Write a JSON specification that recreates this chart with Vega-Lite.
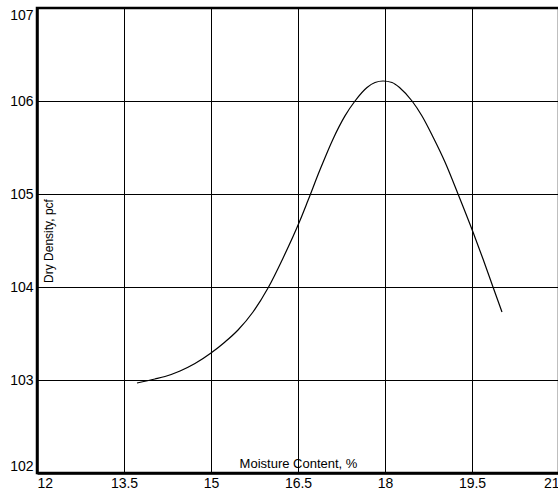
{
  "$schema": "https://vega.github.io/schema/vega-lite/v6.json",
  "autosize": "none",
  "padding": {"left": 37, "top": 8, "right": 0, "bottom": 17},
  "width": 522,
  "height": 465,
  "background": "white",
  "config": {
    "view": {"stroke": "black", "strokeWidth": 2.5},
    "axis": {
      "labelFont": "Liberation Sans",
      "titleFont": "Liberation Sans",
      "labelColor": "black",
      "titleColor": "black",
      "labelFontSize": 14,
      "ticks": false,
      "domainColor": "black",
      "domainWidth": 2.5,
      "gridColor": "black",
      "gridOpacity": 1,
      "gridWidth": 1,
      "titleFontWeight": "normal",
      "labelFlush": true
    }
  },
  "data": {
    "values": [
      {"moisture": 13.724, "density": 102.968},
      {"moisture": 14.034, "density": 103.011},
      {"moisture": 14.207, "density": 103.038},
      {"moisture": 14.466, "density": 103.097},
      {"moisture": 14.724, "density": 103.177},
      {"moisture": 15.0, "density": 103.29},
      {"moisture": 15.241, "density": 103.409},
      {"moisture": 15.466, "density": 103.538},
      {"moisture": 15.724, "density": 103.731},
      {"moisture": 15.983, "density": 103.989},
      {"moisture": 16.241, "density": 104.31},
      {"moisture": 16.534, "density": 104.715},
      {"moisture": 16.672, "density": 104.93},
      {"moisture": 16.879, "density": 105.26},
      {"moisture": 17.103, "density": 105.59},
      {"moisture": 17.31, "density": 105.84},
      {"moisture": 17.483, "density": 106.0},
      {"moisture": 17.69, "density": 106.145},
      {"moisture": 17.828, "density": 106.199},
      {"moisture": 17.966, "density": 106.215},
      {"moisture": 18.121, "density": 106.199},
      {"moisture": 18.259, "density": 106.14},
      {"moisture": 18.466, "density": 106.0},
      {"moisture": 18.638, "density": 105.839},
      {"moisture": 18.828, "density": 105.613},
      {"moisture": 19.034, "density": 105.344},
      {"moisture": 19.259, "density": 105.0},
      {"moisture": 19.517, "density": 104.591},
      {"moisture": 19.69, "density": 104.301},
      {"moisture": 19.862, "density": 104.0},
      {"moisture": 20.017, "density": 103.731}
    ]
  },
  "mark": {"type": "line", "color": "black", "strokeWidth": 1.2, "interpolate": "monotone"},
  "encoding": {
    "x": {
      "field": "moisture",
      "type": "quantitative",
      "scale": {"domain": [12, 21], "nice": false, "zero": false},
      "axis": {
        "values": [12, 13.5, 15, 16.5, 18, 19.5, 21],
        "format": ".1~f",
        "title": "Moisture Content, %",
        "titleFontSize": 13,
        "titleY": -6,
        "titleBaseline": "alphabetic",
        "labelPadding": 3
      }
    },
    "y": {
      "field": "density",
      "type": "quantitative",
      "scale": {"domain": [102, 107], "nice": false, "zero": false},
      "axis": {
        "values": [102, 103, 104, 105, 106, 107],
        "format": "d",
        "title": "Dry Density, pcf",
        "titleFontSize": 12,
        "titleX": 15,
        "titleAngle": -90,
        "titleBaseline": "alphabetic",
        "labelPadding": 4
      }
    }
  }
}
